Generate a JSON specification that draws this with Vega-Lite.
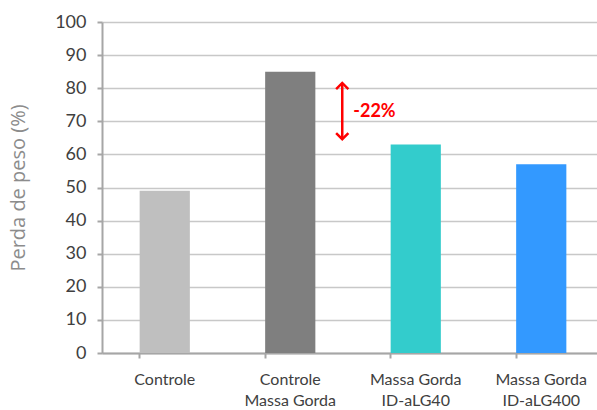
{
  "$schema": "https://vega.github.io/schema/vega-lite/v6.json",
  "autosize": {"type": "none"},
  "width": 502,
  "height": 331,
  "padding": {"left": 102, "top": 22, "right": 0, "bottom": 57},
  "background": "white",
  "config": {"view": {"stroke": null}},
  "encoding": {
    "x": {
      "field": "grupo", "type": "nominal", "sort": null,
      "scale": {"paddingInner": 0.6, "paddingOuter": 0.3},
      "axis": {
        "title": null, "labelAngle": 0,
        "labelExpr": "split(datum.label, '|')",
        "labelFont": "Lato", "labelFontSize": 16, "labelColor": "#404040",
        "labelPadding": 13, "labelLineHeight": 21, "labelBaseline": "top",
        "bandPosition": 0, "tickSize": 5, "tickColor": "#a6a6a6", "tickWidth": 2,
        "domainColor": "#a6a6a6", "domainWidth": 2, "grid": false
      }
    },
    "y": {
      "field": "perda", "type": "quantitative",
      "scale": {"domain": [0, 100], "nice": false},
      "axis": {
        "title": "Perda de peso (%)",
        "titleFont": "Open Sans", "titleFontSize": 20, "titleFontWeight": "normal",
        "titleColor": "#8c8c8c", "titlePadding": 26,
        "values": [0, 10, 20, 30, 40, 50, 60, 70, 80, 90, 100],
        "labelOverlap": false,
        "labelFont": "Lato", "labelFontSize": 18, "labelColor": "#404040",
        "labelPadding": 11, "tickSize": 5, "tickColor": "#a6a6a6", "tickWidth": 2,
        "domainColor": "#a6a6a6", "domainWidth": 2,
        "grid": true, "gridColor": "#c8c8c8", "gridWidth": 1.5
      }
    }
  },
  "layer": [
    {
      "data": {"values": [
        {"grupo": "Controle", "perda": 49},
        {"grupo": "Controle|Massa Gorda", "perda": 85},
        {"grupo": "Massa Gorda|ID-aLG40", "perda": 63},
        {"grupo": "Massa Gorda|ID-aLG400", "perda": 57}
      ]},
      "mark": {"type": "bar"},
      "encoding": {
        "color": {
          "field": "grupo", "type": "nominal", "legend": null,
          "scale": {
            "domain": ["Controle", "Controle|Massa Gorda", "Massa Gorda|ID-aLG40", "Massa Gorda|ID-aLG400"],
            "range": ["#bfbfbf", "#7f7f7f", "#33cccc", "#3399ff"]
          }
        }
      }
    },
    {
      "data": {"values": [{"grupo": "Controle|Massa Gorda", "perda": 81.6, "base": 64.6}]},
      "mark": {"type": "rule", "color": "#ff0000", "strokeWidth": 2.5, "xOffset": 52},
      "encoding": {
        "y2": {"field": "base"}
      }
    },
    {
      "data": {"values": [
        {"grupo": "Controle|Massa Gorda", "perda": 81.6, "ponta": "cima"},
        {"grupo": "Controle|Massa Gorda", "perda": 64.6, "ponta": "baixo"}
      ]},
      "mark": {"type": "point", "filled": false, "color": "#ff0000", "strokeWidth": 2.5, "size": 150, "xOffset": 52, "opacity": 1},
      "encoding": {
        "shape": {
          "field": "ponta", "type": "nominal", "legend": null,
          "scale": {"domain": ["cima", "baixo"], "range": ["M-1,1L0,0L1,1", "M-1,-1L0,0L1,-1"]}
        }
      }
    },
    {
      "data": {"values": [{"grupo": "Controle|Massa Gorda", "perda": 72.8, "rotulo": "-22%"}]},
      "mark": {"type": "text", "color": "#ff0000", "font": "Lato", "fontSize": 18, "fontWeight": "bold", "align": "left", "baseline": "middle", "xOffset": 63},
      "encoding": {
        "text": {"field": "rotulo"}
      }
    }
  ]
}
